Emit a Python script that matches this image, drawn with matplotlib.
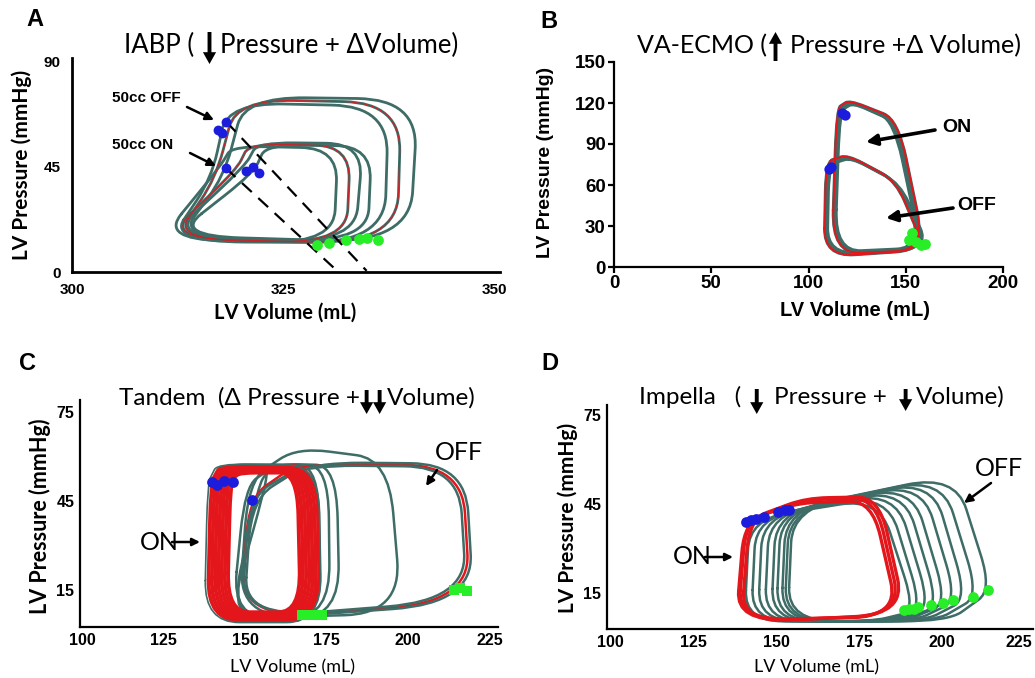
import numpy as np
import matplotlib
matplotlib.use('Agg')
import matplotlib.pyplot as plt
from matplotlib.path import Path
from matplotlib.patches import PathPatch, FancyArrowPatch
from matplotlib.transforms import ScaledTranslation

W, H = 1035, 678
fig = plt.figure(figsize=(W / 100, H / 100), dpi=100)

GREY = '#3e6c66'
RED = '#e3161c'
BLUE = '#1c1cdc'
GREEN = '#28ee28'
CAL = ['Lato', 'DejaVu Sans']
ARIAL = ['Liberation Sans', 'DejaVu Sans']
NARROW = ['Liberation Sans Narrow', 'Liberation Sans', 'DejaVu Sans']

# ---------------- data ----------------
# Panel A : IABP
a_xticks = [300, 325, 350]
a_yticks = [0, 45, 90]
a_off_v = [[311.5, 337.0, 337.5, 318.5, 316.5],
           [312.0, 338.5, 339.0, 319.5, 317.0],
           [312.5, 340.0, 341.0, 320.5, 318.0]]
a_off_p = [[13.0, 12.5, 71.0, 72.5, 40.0],
           [13.5, 12.5, 72.5, 74.0, 40.0],
           [14.0, 13.0, 74.0, 75.0, 41.0]]
a_on_v = [[310.5, 331.0, 331.5, 319.0, 317.5],
          [311.0, 332.5, 333.0, 321.0, 319.5],
          [311.5, 333.5, 334.5, 322.0, 320.5],
          [312.0, 335.0, 335.5, 323.0, 321.5]]
a_on_p = [[14.0, 12.5, 53.0, 54.0, 45.0],
          [14.5, 12.5, 54.0, 55.0, 44.0],
          [15.0, 13.0, 55.0, 55.5, 45.5],
          [15.5, 13.0, 54.0, 54.5, 42.5]]
a_blue_v = [318.3, 317.3, 317.8, 318.2, 320.6, 321.4, 322.2]
a_blue_p = [64.3, 60.9, 59.4, 44.6, 43.3, 45.0, 42.4]
a_green_v = [329.0, 330.5, 332.5, 334.0, 335.0, 336.2]
a_green_p = [11.5, 12.5, 13.5, 14.0, 14.5, 13.5]
a_dash_v = [[318.3, 334.9], [318.2, 331.4]]
a_dash_p = [[64.3, 0.5], [44.6, 0.5]]

# Panel B : VA-ECMO
b_xticks = [0, 50, 100, 150, 200]
b_yticks = [0, 30, 60, 90, 120, 150]
b_on_v = [[112.5, 158.0, 144.0, 122.0, 115.0],
          [113.5, 159.0, 145.0, 123.0, 116.0],
          [112.0, 160.0, 146.0, 121.0, 114.5]]
b_on_p = [[10.0, 13.0, 107.0, 121.0, 115.0],
          [11.0, 14.0, 106.0, 120.0, 114.0],
          [9.5, 12.5, 108.0, 122.0, 116.0]]
b_off_v = [[108.5, 161.0, 146.0, 121.0, 109.5],
           [109.5, 162.0, 147.0, 122.0, 110.5],
           [108.0, 160.0, 145.0, 120.0, 109.0]]
b_off_p = [[8.0, 13.0, 62.0, 81.0, 76.0],
           [9.0, 14.0, 61.0, 80.0, 75.0],
           [7.5, 12.5, 63.0, 82.0, 77.0]]
b_blue_v = [117.0, 119.0, 110.5, 111.5]
b_blue_p = [113.0, 111.5, 71.5, 73.0]
b_green_v = [151.5, 153.0, 155.5, 158.0, 160.0]
b_green_p = [20.0, 25.0, 18.0, 16.0, 17.0]

# Panel C : Tandem
c_xticks = [100, 125, 150, 175, 200, 225]
c_yticks = [15, 45, 75]
c_on_left = [139.5, 140.5, 141.5, 142.5, 143.5, 144.5, 145.5]
c_on_right = [172.0, 171.0, 170.0, 169.0, 168.0, 167.0, 166.0]
c_on_top = [57.0, 56.5, 56.0, 56.0, 55.5, 55.0, 54.5]
c_on_esp = [51.0, 51.0, 51.5, 51.5, 52.0, 52.0, 52.0]
c_on_bot = [4.5, 5.0, 5.5, 6.0, 6.5, 7.0, 7.5]
c_off_v = [[149.0, 219.0, 216.5, 166.0, 151.0],
           [148.5, 218.0, 215.5, 168.0, 151.5],
           [149.5, 220.0, 217.5, 170.0, 152.0]]
c_off_p = [[5.0, 11.0, 57.0, 57.5, 46.0],
           [5.5, 11.5, 56.5, 57.0, 46.5],
           [5.0, 10.5, 57.5, 58.0, 45.5]]
c_mid_v = [[148.0, 198.0, 194.0, 166.0, 151.0],
           [146.0, 179.0, 178.0, 160.0, 150.0],
           [145.5, 176.0, 175.5, 158.0, 154.0],
           [145.0, 173.0, 172.5, 157.0, 156.0]]
c_mid_p = [[5.5, 7.0, 59.0, 63.0, 52.0],
           [5.5, 6.0, 57.0, 57.5, 50.0],
           [5.5, 6.0, 57.0, 57.0, 50.0],
           [5.5, 6.0, 56.5, 57.0, 49.0]]
c_blue_v = [139.8, 141.5, 143.5, 146.2, 152.1]
c_blue_p = [51.4, 50.5, 51.8, 51.2, 45.3]
c_green_v = [167.5, 169.5, 171.5, 173.5, 214.0, 216.0, 218.0]
c_green_p = [6.5, 6.5, 6.5, 6.5, 15.0, 15.5, 14.8]

# Panel D : Impella
d_xticks = [100, 125, 150, 175, 200, 225]
d_yticks = [15, 45, 75]
d_on_v = [[138.0, 188.0, 180.0, 158.0, 140.5],
          [138.5, 187.0, 179.0, 157.0, 141.0],
          [139.5, 189.0, 181.0, 159.0, 142.0]]
d_on_p = [[5.5, 7.5, 47.0, 46.5, 39.0],
          [6.0, 7.0, 46.0, 45.5, 39.5],
          [5.0, 8.0, 47.5, 47.0, 40.0]]
d_off_esv = [142.0, 144.0, 146.0, 148.0, 150.0, 151.5, 153.0, 154.0, 155.0]
d_off_esp = [40.0, 40.5, 41.0, 41.5, 42.0, 42.5, 43.0, 43.0, 43.5]
d_off_trv = [181.0, 183.5, 186.0, 188.5, 191.0, 194.0, 197.0, 200.0, 204.0]
d_off_top = [47.0, 48.0, 49.0, 50.0, 51.0, 52.0, 53.0, 54.0, 55.0]
d_off_edv = [191.0, 193.0, 195.5, 198.0, 200.5, 203.5, 206.5, 210.0, 214.0]
d_off_edp = [9.0, 9.5, 10.0, 10.5, 11.5, 12.5, 13.0, 14.0, 16.0]
d_blue_v = [141.0, 142.5, 144.0, 146.5, 150.5, 152.6, 154.0]
d_blue_p = [38.9, 39.5, 40.0, 40.5, 42.5, 43.0, 43.0]
d_green_v = [188.6, 190.0, 191.5, 192.7, 196.6, 200.4, 203.4, 209.4, 213.8]
d_green_p = [9.3, 9.5, 9.8, 10.3, 11.0, 11.6, 12.6, 13.6, 16.0]


# ---------------- helpers ----------------
def add_axes_px(l, t, r, b):
    return fig.add_axes([l / W, 1 - b / H, (r - l) / W, (b - t) / H])


def loop(ax, vs, ps, r=0.35, **kw):
    pts = np.column_stack([vs, ps]).astype(float)
    n = len(pts)
    verts, codes = [], []
    for i in range(n):
        c = pts[i]
        prv = pts[i - 1]
        nxt = pts[(i + 1) % n]
        a = c + r * (prv - c)
        b = c + r * (nxt - c)
        verts.append(a)
        codes.append(Path.MOVETO if i == 0 else Path.LINETO)
        verts += [c, b]
        codes += [Path.CURVE3, Path.CURVE3]
    verts.append(verts[0])
    codes.append(Path.LINETO)
    ax.add_patch(PathPatch(Path(verts, codes), fill=False, capstyle='round',
                           joinstyle='round', **kw))


def ftext(x, y, s, **kw):
    return fig.text(x / W, 1 - y / H, s, **kw)


def farrow(x0, y0, x1, y1, lw=2.0, ms=14):
    fig.add_artist(FancyArrowPatch(
        (x0 / W, 1 - y0 / H), (x1 / W, 1 - y1 / H), transform=fig.transFigure,
        arrowstyle='-|>', mutation_scale=ms, lw=lw, color='black',
        shrinkA=0, shrinkB=0))


def block_arrow(xc, y_tail, y_head, hw=9.5, hl=8.5, tw=2.8):
    fig.add_artist(FancyArrowPatch(
        (xc / W, 1 - y_tail / H), (xc / W, 1 - y_head / H), transform=fig.transFigure,
        arrowstyle=f'simple,head_width={hw},head_length={hl},tail_width={tw}',
        mutation_scale=1, lw=0, color='black', shrinkA=0, shrinkB=0))


renderer = fig.canvas.get_renderer()


def rich_title(xc, ybase, pieces):
    """pieces: (text, props, gap) or ('ARROW', (slot_w, y_tail, y_head), gap)"""
    items = []
    total = 0.0
    for s, kw, gap in pieces:
        if s == 'ARROW':
            w = kw[0]
            items.append(('a', kw, w, gap))
        else:
            t = ftext(0, ybase, s, va='baseline', ha='left', **kw)
            w = t.get_window_extent(renderer).width
            items.append(('t', t, w, gap))
        total += w + gap
    x = xc - total / 2
    for kind, obj, w, gap in items:
        x += gap
        if kind == 't':
            obj.set_x(x / W)
        else:
            block_arrow(x + w / 2, obj[1], obj[2])
        x += w


def style_axes(ax, lw, ticklen, tickfont, tsize, pad):
    for s in ['top', 'right']:
        ax.spines[s].set_visible(False)
    for s in ['left', 'bottom']:
        ax.spines[s].set_linewidth(lw)
    ax.tick_params(length=ticklen, width=lw, pad=pad, direction='out')
    for lab in ax.get_xticklabels() + ax.get_yticklabels():
        lab.set_family(tickfont)
        lab.set_fontweight('bold')
        lab.set_fontsize(tsize)


# ---------------- Panel A ----------------
axA = add_axes_px(72, 58, 500, 272)
axA.set_xlim(300, 350.7)
axA.set_ylim(0, 91.7)
axA.set_xticks(a_xticks)
axA.set_yticks(a_yticks)
style_axes(axA, 2.0, 0, ARIAL, 11, 8)
for v, p in zip(a_off_v, a_off_p):
    loop(axA, v, p, r=0.35, color=GREY, lw=2.0)
for v, p in zip(a_on_v, a_on_p):
    loop(axA, v, p, r=0.35, color=GREY, lw=2.0)
loop(axA, a_off_v[1], a_off_p[1], r=0.35, color=RED, lw=0.6)
loop(axA, a_on_v[1], a_on_p[1], r=0.35, color=RED, lw=0.6)
for v, p in zip(a_dash_v, a_dash_p):
    axA.plot(v, p, color='black', lw=1.6, ls=(0, (6, 4)))
axA.scatter(a_blue_v, a_blue_p, s=50, color=BLUE, zorder=5, lw=0)
axA.scatter(a_green_v, a_green_p, s=60, color=GREEN, zorder=5, lw=0)

# ---------------- Panel B ----------------
axB = add_axes_px(614, 62, 1003, 267)
axB.set_xlim(0, 200)
axB.set_ylim(0, 150)
axB.set_xticks(b_xticks)
axB.set_yticks(b_yticks)
style_axes(axB, 1.6, 4, ARIAL, 13.5, 2)
for v, p in zip(b_off_v, b_off_p):
    loop(axB, v, p, r=0.3, color=GREY, lw=2.2)
for v, p in zip(b_on_v, b_on_p):
    loop(axB, v, p, r=0.3, color=GREY, lw=2.2)
loop(axB, b_off_v[2], b_off_p[2], r=0.3, color=RED, lw=1.4)
loop(axB, b_on_v[2], b_on_p[2], r=0.3, color=RED, lw=1.4)
axB.scatter(b_blue_v, b_blue_p, s=55, color=BLUE, zorder=5, lw=0)
axB.scatter(b_green_v, b_green_p, s=60, color=GREEN, zorder=5, lw=0)

# ---------------- Panel C ----------------
axC = add_axes_px(80, 400, 498, 627)
axC.set_xlim(99.4, 227.5)
axC.set_ylim(2.5, 79)
axC.set_xticks(c_xticks)
axC.set_yticks(c_yticks)
style_axes(axC, 1.6, 0, NARROW, 11.5, 4)
for v, p in zip(c_mid_v, c_mid_p):
    loop(axC, v, p, r=0.35, color=GREY, lw=1.8)
for i, (v, p) in enumerate(zip(c_off_v, c_off_p)):
    loop(axC, v, p, r=0.35, color=RED if i == 0 else GREY, lw=1.8)
for L, R, T, E, B in zip(c_on_left, c_on_right, c_on_top, c_on_esp, c_on_bot):
    loop(axC, [L - 1, R + 1, R, L + 3, L], [B, B, T, T, E], r=0.3,
         color=RED, lw=2.7)
loop(axC, [c_on_left[0] - 2, c_on_right[0] + 1.5, c_on_right[0] + 0.5, c_on_left[0] + 2, c_on_left[0] - 1],
     [c_on_bot[0] - 0.5, c_on_bot[0] - 0.5, c_on_top[0], c_on_top[0] + 0.5, c_on_esp[0]],
     r=0.3, color=GREY, lw=1.2)
axC.scatter(c_blue_v, c_blue_p, s=60, color=BLUE, zorder=5, lw=0)
axC.scatter(c_green_v, c_green_p, s=55, color=GREEN, zorder=5, lw=0, marker='s')

# ---------------- Panel D ----------------
axD = add_axes_px(607, 405, 1033, 629)
axD.set_xlim(99.1, 227.4)
axD.set_ylim(2.9, 78.4)
axD.set_xticks(d_xticks)
axD.set_yticks(d_yticks)
style_axes(axD, 1.6, 0, NARROW, 11.5, 4)
for E, EP, TV, T, D, DP in zip(d_off_esv, d_off_esp, d_off_trv, d_off_top,
                               d_off_edv, d_off_edp):
    loop(axD, [E - 1.5, D - 12, D + 1, TV, E], [5.5, 5.5, DP, T, EP], r=0.3,
         color=GREY, lw=1.8)
for v, p in zip(d_on_v, d_on_p):
    loop(axD, v, p, r=0.3, color=RED, lw=2.4)
axD.scatter(d_blue_v, d_blue_p, s=60, color=BLUE, zorder=5, lw=0)
axD.scatter(d_green_v, d_green_p, s=60, color=GREEN, zorder=5, lw=0)
last = axD.get_xticklabels()[-1]
last.set_transform(last.get_transform() + ScaledTranslation(-6 / 100, 0, fig.dpi_scale_trans))

# ---------------- texts ----------------
for x, y, s in [(35, 20, 'A'), (549, 22, 'B'), (28, 363, 'C'), (550, 363, 'D')]:
    ftext(x, y, s, family=ARIAL, fontweight='bold', fontsize=17, ha='center', va='center')

TT = lambda sz: dict(family=CAL, fontsize=sz)
rich_title(291, 53, [('IABP (', TT(18.5), 0), ('ARROW', (14, 32, 64), 8),
                     ('Pressure + \u0394Volume)', TT(18.5), 3)])
rich_title(829, 53, [('VA-ECMO (', TT(18), 0), ('ARROW', (11, 61, 32), 3),
                     ('Pressure +\u0394 Volume)', TT(18), 9)])
rich_title(297, 405, [('Tandem  (\u0394 Pressure +', TT(17.5), 0),
                      ('ARROW', (12, 390, 414), 1), ('ARROW', (12, 390, 414), 1),
                      ('Volume)', TT(17.5), 1)])
rich_title(822, 404, [('Impella   (', TT(17.5), 0), ('ARROW', (13, 389, 414), 9),
                      ('Pressure +', TT(17.5), 11), ('ARROW', (13, 389, 411), 12),
                      ('Volume)', TT(17.5), 4)])

# axis labels
ftext(22, 165, 'LV Pressure (mmHg)', family=CAL, fontweight='bold', fontsize=15,
      rotation=90, ha='center', va='center')
ftext(285, 313, 'LV Volume (mL)', family=CAL, fontweight='bold', fontsize=14.5,
      ha='center', va='center')
ftext(545, 162, 'LV Pressure (mmHg)', family=ARIAL, fontweight='bold', fontsize=14,
      rotation=90, ha='center', va='center')
ftext(855, 310, 'LV Volume (mL)', family=ARIAL, fontweight='bold', fontsize=14.5,
      ha='center', va='center')
ftext(40, 516, 'LV Pressure (mmHg)', family=CAL, fontweight='bold', fontsize=15.5,
      rotation=90, ha='center', va='center')
ftext(292, 667, 'LV Volume (mL)', family=CAL, fontsize=13,
      ha='center', va='center')
ftext(568, 518, 'LV Pressure (mmHg)', family=CAL, fontweight='bold', fontsize=15,
      rotation=90, ha='center', va='center')
ftext(817, 667, 'LV Volume (mL)', family=CAL, fontsize=13,
      ha='center', va='center')

# annotations
ftext(112, 98, '50cc OFF', family=ARIAL, fontweight='bold', fontsize=11, ha='left', va='center')
ftext(112, 145, '50cc ON', family=ARIAL, fontweight='bold', fontsize=11, ha='left', va='center')
farrow(187, 107, 214, 120, lw=1.8, ms=12)
farrow(190, 153, 216, 166, lw=1.8, ms=12)

ftext(942, 127, 'ON', family=ARIAL, fontweight='bold', fontsize=14, ha='left', va='center')
ftext(957, 206, 'OFF', family=ARIAL, fontweight='bold', fontsize=14, ha='left', va='center')
farrow(935, 130, 866, 142, lw=2.6, ms=16)
farrow(953, 208, 886, 218, lw=2.6, ms=16)

ftext(435, 452, 'OFF', family=CAL, fontsize=18, ha='left', va='center')
farrow(437, 470, 426, 486, lw=1.8, ms=12)
ftext(140, 542, 'ON', family=CAL, fontsize=18, ha='left', va='center')
farrow(172, 542, 200, 542, lw=1.8, ms=11)

ftext(975, 468, 'OFF', family=CAL, fontsize=18, ha='left', va='center')
farrow(991, 483, 964, 503, lw=1.8, ms=12)
ftext(673, 557, 'ON', family=CAL, fontsize=18, ha='left', va='center')
farrow(705, 557, 733, 557, lw=1.8, ms=11)

fig.savefig('out.png', dpi=100)
